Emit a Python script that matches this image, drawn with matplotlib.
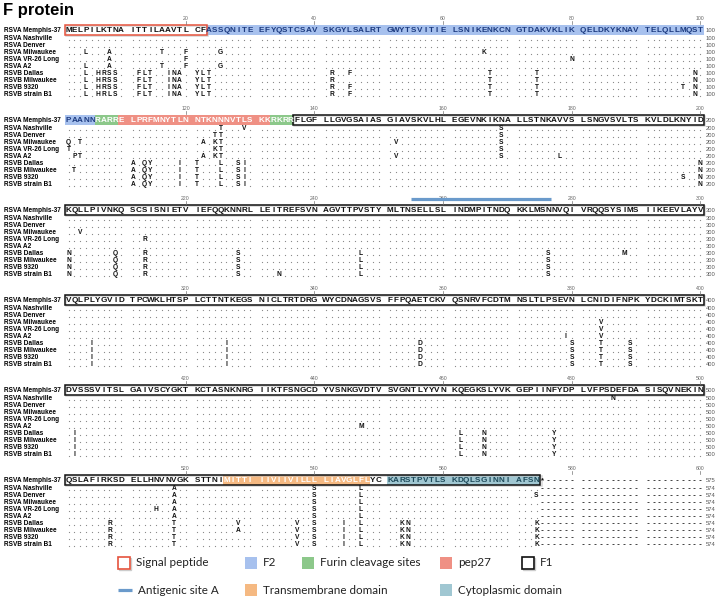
import matplotlib
matplotlib.use("Agg")
import matplotlib.pyplot as plt
from matplotlib.patches import Rectangle
import re

# ---------------- data ----------------
REF_BLOCKS = [
    "MELPILKTNAITTILAAVTLCFASSQNITEEFYQSTCSAVSKGYLSALRTGWYTSVITIELSNIKENKCNGTDAKVKLIKQELDKYKNAVTELQLLMQST",
    "PAANNRARRELPRFMNYTLNNTKNNNVTLSKKRKRRFLGFLLGVGSAIASGIAVSKVLHLEGEVNKIKNALLSTNKAVVSLSNGVSVLTSKVLDLKNYID",
    "KQLLPIVNKQSCSISNIETVIEFQQKNNRLLEITREFSVNAGVTTPVSTYMLTNSELLSLINDMPITNDQKKLMSNNVQIVRQQSYSIMSIIKEEVLAYV",
    "VQLPLYGVIDTPCWKLHTSPLCTTNTKEGSNICLTRTDRGWYCDNAGSVSFFPQAETCKVQSNRVFCDTMNSLTLPSEVNLCNIDIFNPKYDCKIMTSKT",
    "DVSSSVITSLGAIVSCYGKTKCTASNKNRGIIKTFSNGCDYVSNKGVDTVSVGNTLYYVNKQEGKSLYVKGEPIINFYDPLVFPSDEFDASISQVNEKIN",
    "QSLAFIRKSDELLHNVNVGKSTTNIMITTIIIVIIVILLLLIAVGLFLYCKARSTPVTLSKDQLSGINNIAFSN*",
]
REF_NAME = "RSVA Memphis-37"
REF_LEN = 575
STRAINS = ["RSVA Nashville", "RSVA Denver", "RSVA Milwaukee", "RSVA VR-26 Long", "RSVA A2",
           "RSVB Dallas", "RSVB Milwaukee", "RSVB 9320", "RSVB strain B1"]
STRAIN_LEN = [574, 574, 574, 574, 574, 574, 574, 574, 574]

B_COMMON = ("P4L L6H K7R T8S N9S T12F T13L I14T A17I V18N T19A C21Y F22L A23T K42R N67T A74T S99N "
            "L111A R113Q F114Y L119I N121T N125L T128S L129I D200N K201N K209Q S213R N228S V247L N276S "
            "L305I T326I E356D N380S I384T P389S V402I Q462L S466N F477Y K508R V518T I537V L540S V544I "
            "F547L R553K S554N N574K")
SUBS = {
    "RSVA Nashville": "N125T L129V N169S D486N V518A L540S F547L",
    "RSVA Denver": "N124T N125T N169S V518A L540S F547L N574S",
    "RSVA Milwaukee": "P4L T8A A16T L20F S25G E66K P101Q A103T T122A N124K N125T I152V N169S L203V I384V V518A L540S F547L",
    "RSVA VR-26 Long": "T8A L20F K80N P101T N124K N125T N169S S213R I384V N515H V518A L540S F547L",
    "RSVA A2": "P4L T8A A16T L20F S25G A102P A103T T122A N124K N125T I152V N169S V178L V379I I384V V447M V518A L540S F547L",
    "RSVB Dallas": B_COMMON + " L45F I288M T528V",
    "RSVB Milwaukee": B_COMMON + " A102T T528A",
    "RSVB 9320": B_COMMON + " L45F M97T N197S",
    "RSVB strain B1": B_COMMON.replace("T8S", "T8L") + " L45F T234N",
}

# regions on reference: (start, end, kind)
REGIONS = [
    (23, 105, "F2"), (106, 109, "furin"), (110, 132, "pep27"), (133, 136, "furin"),
    (526, 548, "tm"), (551, 574, "cyto"),
]
SIGNAL = (1, 22)
F1 = (137, 574)
ANTIGENIC_A = (255, 276)

COLORS = {"F2": "#a7c1ee", "furin": "#8cc88a", "pep27": "#ef9084", "tm": "#f5b982",
          "cyto": "#a0c7d2", "signal": "#e5533d", "antig": "#6a9acb"}
TEXTCOL = {"F2": "#1d3b80", "furin": "#ffffff", "pep27": "#ffffff", "tm": "#ffffff", "cyto": "#1e4a5a"}

LEGEND1 = [("box_signal", "Signal peptide"), ("F2", "F2"), ("furin", "Furin cleavage sites"),
           ("pep27", "pep27"), ("box_f1", "F1")]
LEGEND2 = [("line", "Antigenic site A"), ("tm", "Transmembrane domain"), ("cyto", "Cytoplasmic domain")]

# ---------------- layout ----------------
W, H = 724, 604
X0, CW = 68.5, 5.85
REF_Y0, BLOCK_H = 30.0, 90.0
ROW1, ROW_H = 8.3, 7.0
FONT = "Liberation Sans"

def col_x(i):
    return X0 + (i + i // 10) * CW

def pos_xy(p):
    b = (p - 1) // 100
    return col_x((p - 1) % 100), REF_Y0 + b * BLOCK_H, b

fig = plt.figure(figsize=(W / 100, H / 100), dpi=100)
ax = fig.add_axes([0, 0, 1, 1])
ax.set_xlim(0, W)
ax.set_ylim(H, 0)
ax.axis("off")

ax.text(3, 10, "F protein", fontsize=12, fontweight="bold", family=FONT, va="center", ha="left")

def parse(s):
    out = {}
    for tok in s.split():
        m = re.match(r"([A-Z])(\d+)([A-Z])", tok)
        out[int(m.group(2))] = m.group(3)
    return out

subs = {k: parse(v) for k, v in SUBS.items()}
BAND_H = 10.5

def region_segments(s, e):
    segs = []
    p = s
    while p <= e:
        b = (p - 1) // 100
        last = min(e, (b + 1) * 100)
        segs.append((b, (p - 1) % 100, (last - 1) % 100))
        p = last + 1
    return segs

# colored bands
kind_at = {}
for s, e, kind in REGIONS:
    for p in range(s, e + 1):
        kind_at[p] = kind
    for b, i0, i1 in region_segments(s, e):
        y = REF_Y0 + b * BLOCK_H
        x0 = col_x(i0) - CW / 2 - 0.3
        x1 = col_x(i1) + CW / 2 + 0.3
        ax.add_patch(Rectangle((x0, y - BAND_H / 2), x1 - x0, BAND_H, facecolor=COLORS[kind],
                               edgecolor="none", zorder=1))

def outline(s, e, color, lw):
    for b, i0, i1 in region_segments(s, e):
        y = REF_Y0 + b * BLOCK_H
        x0 = col_x(i0) - CW / 2 - 1.0
        x1 = col_x(i1) + CW / 2 + 1.0
        ax.add_patch(Rectangle((x0 + 1.2, y - BAND_H / 2 + 1.2), x1 - x0, BAND_H, facecolor="none",
                               edgecolor="#bbbbbb", lw=lw, zorder=2, alpha=0.6))
        ax.add_patch(Rectangle((x0, y - BAND_H / 2), x1 - x0, BAND_H, facecolor="none",
                               edgecolor=color, lw=lw, zorder=3))

outline(SIGNAL[0], SIGNAL[1], COLORS["signal"], 1.1)
outline(F1[0], F1[1], "#111111", 1.1)

# antigenic site A bar
xa0 = pos_xy(ANTIGENIC_A[0])[0] - CW / 2
xa1 = pos_xy(ANTIGENIC_A[1])[0] + CW / 2
ya = pos_xy(ANTIGENIC_A[0])[1] - 11
ax.plot([xa0, xa1], [ya, ya], color=COLORS["antig"], lw=2.3, solid_capstyle="butt", zorder=4)

nblocks = len(REF_BLOCKS)
for b in range(nblocks):
    yref = REF_Y0 + b * BLOCK_H
    # tick labels
    for t in range(20, 101, 20):
        p = b * 100 + t
        x = col_x(t - 1)
        ax.text(x, yref - 11.5, str(p), fontsize=3.7, color="#666666", ha="center", va="center",
                family=FONT, zorder=3)
        ax.plot([x, x], [yref - 8.7, yref - 6.2], color="#777777", lw=0.5, zorder=3)
    # reference row
    ax.text(4, yref, REF_NAME, fontsize=4.7, fontweight="bold", family=FONT, va="center", ha="left")
    seq = REF_BLOCKS[b]
    for i, aa in enumerate(seq):
        p = b * 100 + i + 1
        col = TEXTCOL.get(kind_at.get(p), "#111111")
        if aa == "*":
            ax.text(col_x(i), yref + 1.0, "*", fontsize=5.5, fontweight="bold", family=FONT,
                    ha="center", va="center", color="#111111", zorder=5)
        else:
            ax.text(col_x(i), yref, aa, fontsize=5.9, fontweight="bold", family=FONT,
                    ha="center", va="center", color=col, zorder=5)
    if len(seq) < 100:
        dx = [col_x(i) for i in range(len(seq), 100)]
        ax.scatter(dx, [yref] * len(dx), marker="_", s=1.8, linewidths=0.7, color="#444444", zorder=5)
    ax.text(706, yref + 0.5, str((b + 1) * 100 if len(seq) == 100 else REF_LEN), fontsize=4.2,
            color="#555555", family=FONT, va="center", ha="left")
    # strain rows
    for k, name in enumerate(STRAINS):
        y = yref + ROW1 + k * ROW_H
        ax.text(4, y, name, fontsize=4.7, fontweight="bold", family=FONT, va="center", ha="left")
        L = STRAIN_LEN[k]
        dots_x = []
        dash_x = []
        for i in range(100):
            p = b * 100 + i + 1
            if p > L:
                dash_x.append(col_x(i))
            elif p in subs[name]:
                ax.text(col_x(i), y, subs[name][p], fontsize=4.8, fontweight="bold", family=FONT,
                        ha="center", va="center", color="#111111", zorder=5)
            else:
                dots_x.append(col_x(i))
        if dots_x:
            ax.scatter(dots_x, [y + 1.6] * len(dots_x), s=0.8, color="#888888", linewidths=0, zorder=4)
        if dash_x:
            ax.scatter(dash_x, [y] * len(dash_x), marker="_", s=1.8, linewidths=0.7, color="#444444", zorder=5)
        endn = min(L, (b + 1) * 100)
        ax.text(706, y + 0.5, str(endn), fontsize=4.2, color="#555555", family=FONT, va="center", ha="left")

# ---------------- legend ----------------
LFONT = "Lato"
def legend_item(x, y, kind, label):
    s = 12
    if kind == "box_signal":
        ax.add_patch(Rectangle((x + 1, y - s / 2 + 1), s, s, facecolor="none", edgecolor="#cccccc", lw=1.0))
        ax.add_patch(Rectangle((x, y - s / 2), s, s, facecolor="white", edgecolor=COLORS["signal"], lw=1.2))
    elif kind == "box_f1":
        ax.add_patch(Rectangle((x + 1, y - s / 2 + 1), s, s, facecolor="none", edgecolor="#cccccc", lw=1.0))
        ax.add_patch(Rectangle((x, y - s / 2), s, s, facecolor="white", edgecolor="#111111", lw=1.2))
    elif kind == "line":
        ax.plot([x, x + 14], [y, y], color=COLORS["antig"], lw=2.3, solid_capstyle="butt")
    else:
        ax.add_patch(Rectangle((x, y - s / 2), s, s, facecolor=COLORS[kind], edgecolor="none"))
    tx = x + (20 if kind == "line" else 18)
    ax.text(tx, y, label, fontsize=8.4, family=LFONT, va="center", ha="left", color="#222222")

LEG1_X = [118, 245, 302, 440, 522]
LEG2_X = [118, 245, 440]
for (kind, lab), x in zip(LEGEND1, LEG1_X):
    legend_item(x, 563, kind, lab)
for (kind, lab), x in zip(LEGEND2, LEG2_X):
    legend_item(x, 590, kind, lab)

fig.savefig("out.png", dpi=100)
